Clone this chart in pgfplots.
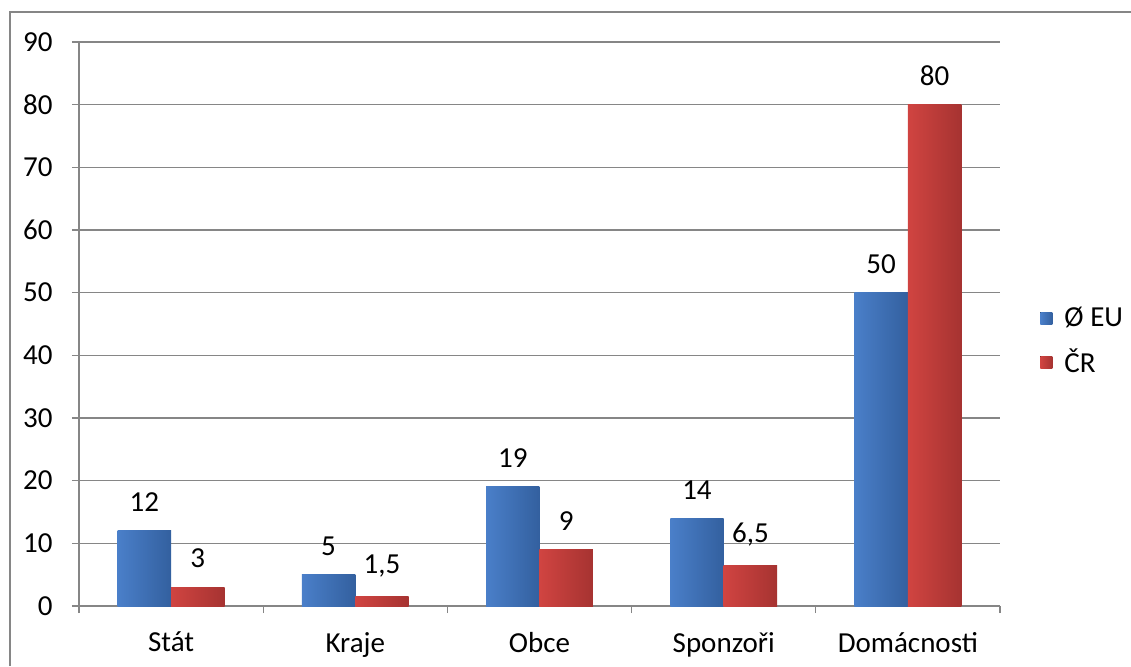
\documentclass[border=0pt]{standalone}
\usepackage{fontspec}
\setmainfont{Carlito}
\usepackage{pgfplots}
\pgfplotsset{compat=1.18}

\definecolor{gridgray}{HTML}{868686}
\definecolor{euL}{HTML}{4A7FC9}
\definecolor{euM}{HTML}{4F86D0}
\definecolor{euR}{HTML}{33609F}
\definecolor{crL}{HTML}{D04441}
\definecolor{crM}{HTML}{D94A48}
\definecolor{crR}{HTML}{A63331}

\begin{document}
\fontsize{14.5}{17}\selectfont
\begin{tikzpicture}
\useasboundingbox (0,0) rectangle (565.5pt,333pt);
\draw[gridgray, line width=0.7pt] (5pt,0) -- (5pt,327pt) -- (565.5pt,327pt);
\begin{axis}[
    at={(39.5pt,30pt)}, anchor=south west,
    scale only axis, width=460.5pt, height=282pt,
    ybar=0pt, bar width=0.29,
    eu/.style={draw=none, left color=euL, middle color=euM, right color=euR, bar shift=-0.145},
    cr/.style={draw=none, left color=crL, middle color=crM, right color=crR, bar shift=0.145},
    xmin=-0.5, xmax=4.5, ymin=0, ymax=90,
    xtick={-0.5,0.5,1.5,2.5,3.5,4.5}, xticklabels={},
    extra x ticks={0,1,2,3,4},
    extra x tick labels={Stát,Kraje,Obce,Sponzoři,Domácnosti},
    extra x tick style={major tick length=0pt},
    xticklabel style={yshift=-8pt},
    ytick={0,10,...,90},
    yticklabel style={xshift=-4.7pt},
    ymajorgrids, grid style={gridgray, line width=0.6pt},
    axis x line*=bottom, axis y line*=left,
    axis line style={gridgray, line width=0.6pt},
    tick align=outside, major tick length=3.5pt,
    tick style={gridgray, line width=0.6pt},
    /pgf/number format/assume math mode=true,
    /pgf/number format/use comma,
    nodes near coords,
    nodes near coords style={text=black, yshift=4.5pt, font=\fontsize{14.5}{17}\selectfont},
    legend cell align=left,
    legend style={draw=none, fill=none, at={(1.037,0.469)}, anchor=west,
        row sep=5pt, font=\fontsize{14.5}{17}\selectfont,
        /tikz/every odd column/.append style={column sep=4pt}},
    legend image code/.code={\fill[#1] (0pt,-3pt) rectangle (6pt,3pt);},
]
\addplot[eu] coordinates {(0,12)};
\addplot[cr] coordinates {(0,3)};
\addplot[eu, forget plot] coordinates {(1,5)};
\addplot[cr, forget plot] coordinates {(1,1.5)};
\addplot[eu, forget plot] coordinates {(2,19)};
\addplot[cr, forget plot] coordinates {(2,9)};
\addplot[eu, forget plot] coordinates {(3,14)};
\addplot[cr, forget plot] coordinates {(3,6.5)};
\addplot[eu, forget plot] coordinates {(4,50)};
\addplot[cr, forget plot] coordinates {(4,80)};
\legend{Ø EU,ČR}
\end{axis}
\end{tikzpicture}
\end{document}
